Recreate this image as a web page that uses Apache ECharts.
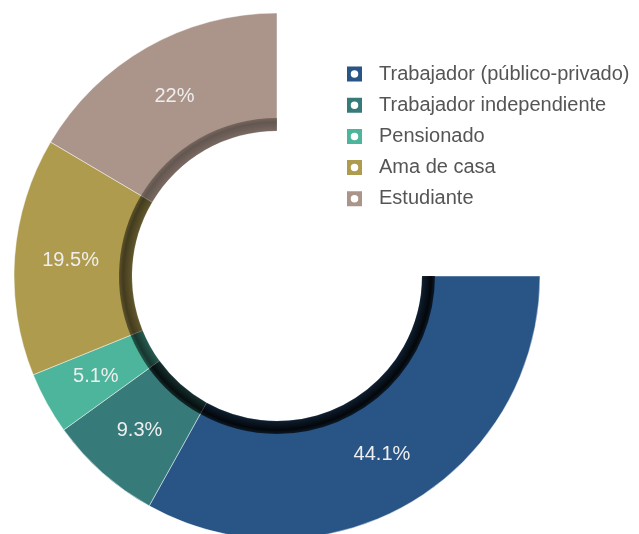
<!DOCTYPE html>
<html lang="es">

<head>
    <meta charset="utf-8">
    <title>ocupacion</title>
    <script src="https://cdn.jsdelivr.net/npm/echarts@6/dist/echarts.min.js"></script>
    <style>
        html, body { margin: 0; padding: 0; background: #fff; }
        #container { width: 639px; height: 534px; }
    </style>
</head>

<body>
<div id="container"></div>
<script>
    const categories = ["Trabajador (público-privado)", "Trabajador independiente", "Pensionado", "Ama de casa", "Estudiante"];
    const values = [44.1, 9.3, 5.1, 19.5, 22];
    const colors = ["#285486", "#377a7a", "#4db59c", "#ae9b4e", "#ab958a"];
    const shadeAlpha = [0.92, 0.88, 0.7, 0.62, 0.42];

    const cx = 277, cy = 276;
    const rIn = 145, rBand = 158, rOut = 263;

    // legend icon: square with a round hole
    const icon = "path://M0,0H14V14H0Z M7,3.5A3.5,3.5 0 0,0 7,10.5A3.5,3.5 0 0,0 7,3.5Z";

    const mainData = categories.map((name, i) => ({
        name: name,
        value: values[i],
        itemStyle: { color: colors[i] }
    }));

    const bandData = categories.map((name, i) => {
        const a = shadeAlpha[i];
        const rgba = k => "rgba(0,0,0," + (a * k).toFixed(3) + ")";
        return {
            name: name,
            value: values[i],
            itemStyle: {
                color: {
                    type: "radial",
                    x: cx, y: cy, r: rBand,
                    global: true,
                    colorStops: [
                        { offset: 0, color: rgba(0.7) },
                        { offset: rIn / rBand, color: rgba(0.7) },
                        { offset: (rIn + 9) / rBand, color: rgba(1) },
                        { offset: 1, color: rgba(0.75) }
                    ]
                }
            }
        };
    });

    const option = {
        animation: false,
        legend: {
            orient: "vertical",
            left: 347,
            top: 64,
            padding: 0,
            icon: icon,
            itemWidth: 15,
            itemHeight: 15,
            itemGap: 11.2,
            itemStyle: { borderWidth: 0 },
            data: categories,
            textStyle: {
                fontFamily: "Liberation Sans, Arial, sans-serif",
                fontSize: 20,
                color: "#555",
                padding: [0, 0, 0, 12]
            }
        },
        series: [
            {
                type: "pie",
                center: [cx, cy],
                radius: [rIn, rOut],
                startAngle: 0,
                endAngle: -270,
                clockwise: true,
                silent: true,
                itemStyle: {
                    borderColor: "rgba(255,255,255,0.45)",
                    borderWidth: 1
                },
                label: {
                    show: true,
                    position: "inside",
                    formatter: "{c}%",
                    color: "#eeeeee",
                    fontFamily: "Liberation Sans, Arial, sans-serif",
                    fontSize: 20
                },
                labelLine: { show: false },
                data: mainData
            },
            {
                type: "pie",
                center: [cx, cy],
                radius: [rIn, rBand],
                startAngle: 0,
                endAngle: -270,
                clockwise: true,
                silent: true,
                label: { show: false },
                labelLine: { show: false },
                data: bandData
            }
        ]
    };

    const chart = echarts.init(document.getElementById("container"));
    chart.setOption(option);
</script>
</body>

</html>
